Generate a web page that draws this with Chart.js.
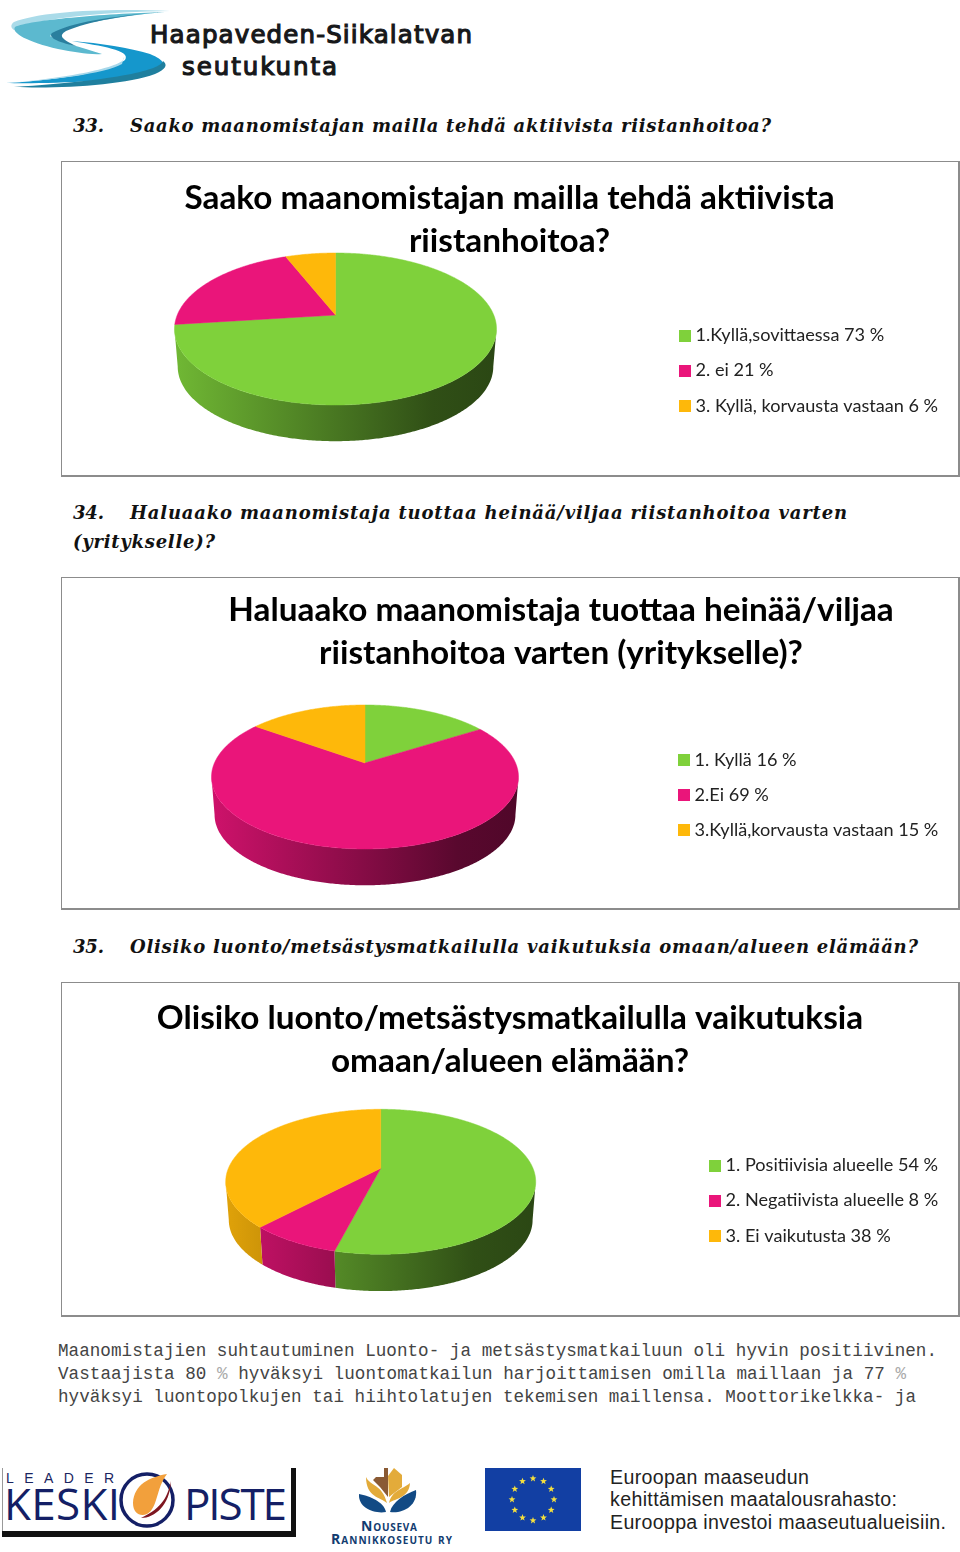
<!DOCTYPE html>
<html lang="fi">
<head>
<meta charset="UTF-8">
<title>Riistanhoito</title>
<script src="https://cdn.jsdelivr.net/npm/chart.js@4/dist/chart.umd.min.js"></script>
<style>
  body { margin: 0; background: #fff; }
  #page { position: relative; width: 960px; height: 1552px; overflow: hidden; }
  #page svg { position: absolute; left: 0; top: 0; }
  .box { position: absolute; left: 61px; width: 896px; border: 1px solid #8c8c8c; border-right-width: 2px; border-bottom-width: 2px; background: #fff; }
  .box canvas { display: block; }
  .head { font: italic bold 18px "DejaVu Serif"; fill: #111; }
  .body { font: 17.6px "Liberation Mono"; fill: #444; }
  .eu { font: 19.6px "Liberation Sans"; fill: #222; }
  .brand { font: 24.5px "DejaVu Sans"; fill: #17181a; stroke: #17181a; stroke-width: 1.2px; }
  .nouseva { font: bold 14px "Open Sans"; font-variant: small-caps; fill: #123c70; }
</style>
</head>
<body>
<div id="page">
  <svg width="960" height="1552" xmlns="http://www.w3.org/2000/svg">
    <!-- header logo -->
    <path d="M170 11C110 8 40 11 14 22C10 25 11 28 14 30C40 17 110 12 170 11Z" fill="#aadbe9"/>
    <path d="M165 12C100 14 30 20 15 27C11 33 28 42 58 49C74 52 90 55 102 54C80 47 60 42 50 36C60 27 110 17 165 12Z" fill="#5cb9cf"/>
    <path d="M165 12C110 16 70 23 52 33C48 37 56 42 76 46C62 39 58 36 66 31C90 21 125 15 165 12Z" fill="#2a7f9e"/>
    <path d="M72 41C100 46 132 50 125 60C110 72 60 80 6 83C40 84 120 82 155 72C168 66 165 60 150 54C130 48 100 43 72 41Z" fill="#1597cc"/>
    <path d="M124 57C128 66 70 78 8 83C50 80 105 74 122 64Z" fill="#a9d8ea"/>
    <path d="M14 87C60 89 125 85 155 74C166 69 168 65 163 61C160 70 120 80 14 87Z" fill="#1f7f9e"/>
    <text class="brand" x="150" y="43" textLength="322">Haapaveden-Siikalatvan</text>
    <text class="brand" x="182" y="75" textLength="155">seutukunta</text>

    <!-- question headings -->
    <text class="head" x="73" y="132" textLength="31">33.</text>
    <text class="head" x="130" y="132" textLength="641">Saako maanomistajan mailla tehdä aktiivista riistanhoitoa?</text>
    <text class="head" x="73" y="519" textLength="31">34.</text>
    <text class="head" x="130" y="519" textLength="717">Haluaako maanomistaja tuottaa heinää/viljaa riistanhoitoa varten</text>
    <text class="head" x="73" y="548" textLength="142">(yritykselle)?</text>
    <text class="head" x="73" y="953" textLength="31">35.</text>
    <text class="head" x="130" y="953" textLength="788">Olisiko luonto/metsästysmatkailulla vaikutuksia omaan/alueen elämään?</text>

    <!-- paragraph below the charts -->
    <text class="body" x="58" y="1356" textLength="879">Maanomistajien suhtautuminen Luonto- ja metsästysmatkailuun oli hyvin positiivinen.</text>
    <text class="body" x="58" y="1379" textLength="848">Vastaajista 80 <tspan fill="#aaa">%</tspan> hyväksyi luontomatkailun harjoittamisen omilla maillaan ja 77 <tspan fill="#aaa">%</tspan></text>
    <text class="body" x="58" y="1402" textLength="858">hyväksyi luontopolkujen tai hiihtolatujen tekemisen maillensa. Moottorikelkka- ja</text>

    <!-- footer logos -->
    <rect x="2" y="1468" width="1" height="64" fill="#999"/>
    <rect x="291" y="1468" width="5" height="69" fill="#111"/>
    <rect x="2" y="1531" width="294" height="6" fill="#111"/>
    <text x="6" y="1483" textLength="108" style="font:14px 'Liberation Sans';fill:#1a2560">LEADER</text>
    <text x="4" y="1520" textLength="116" style="font:44px 'Open Sans';fill:#141f66">KESKI</text>
    <text x="184" y="1520" textLength="103" style="font:44px 'Open Sans';fill:#141f66">PISTE</text>
    <circle cx="147" cy="1500" r="26" fill="none" stroke="#141f66" stroke-width="3.5"/>
    <path d="M167 1474C150 1477 134 1484 133 1503C133 1513 140 1517 147 1514C158 1508 156 1488 167 1474Z" fill="#f2a03c"/>
    <path d="M171 1481C168 1495 163 1508 141 1518C155 1518 170 1505 171 1481Z" fill="#7e1620"/>
    <path d="M373 1480L376 1477H384V1468H388V1497L380 1487Z" fill="#8a5a34"/>
    <path d="M388 1476L394 1468L402 1475V1487L389 1497Z" fill="#e3ab3a"/>
    <path d="M366 1477C370 1486 382 1484 387 1503C380 1497 366 1497 366 1477Z" fill="#e3ab3a"/>
    <path d="M410 1483C402 1490 392 1490 389 1503C396 1498 409 1498 410 1483Z" fill="#e3ab3a"/>
    <path d="M359 1494C370 1496 384 1502 386 1512C374 1514 358 1508 359 1494Z" fill="#124a84"/>
    <path d="M416 1490C405 1494 392 1502 390 1512C402 1514 418 1506 416 1490Z" fill="#124a84"/>
    <text class="nouseva" x="361" y="1531" textLength="56">Nouseva</text>
    <text class="nouseva" x="331" y="1544" textLength="121">Rannikkoseutu ry</text>
    <rect x="485" y="1468" width="96" height="63" fill="#123fa3"/>
    <g id="stars" fill="#f4df3e"></g>
    <text class="eu" x="610" y="1484" textLength="199">Euroopan maaseudun</text>
    <text class="eu" x="610" y="1506" textLength="287">kehittämisen maatalousrahasto:</text>
    <text class="eu" x="610" y="1529" textLength="336">Eurooppa investoi maaseutualueisiin.</text>
  </svg>

  <div class="box" style="top:161px;height:313px"><canvas id="chart33" width="896" height="313"></canvas></div>
  <div class="box" style="top:577px;height:330px"><canvas id="chart34" width="896" height="330"></canvas></div>
  <div class="box" style="top:982px;height:332px"><canvas id="chart35" width="896" height="332"></canvas></div>
</div>

<script>
// values
var colors = ['#7FD13B', '#EA157A', '#FEB80A'];

var title33 = ['Saako maanomistajan mailla tehdä aktiivista', 'riistanhoitoa?'];
var labels33 = ['1.Kyllä,sovittaessa 73 %', '2. ei 21 %', '3. Kyllä, korvausta vastaan 6 %'];
var values33 = [73, 21, 6];

var title34 = ['Haluaako maanomistaja tuottaa heinää/viljaa', 'riistanhoitoa varten (yritykselle)?'];
var labels34 = ['1. Kyllä 16 %', '2.Ei 69 %', '3.Kyllä,korvausta vastaan 15 %'];
var values34 = [16, 69, 15];

var title35 = ['Olisiko luonto/metsästysmatkailulla vaikutuksia', 'omaan/alueen elämään?'];
var labels35 = ['1. Positiivisia alueelle 54 %', '2. Negatiivista alueelle 8 %', '3. Ei vaikutusta 38 %'];
var values35 = [54, 8, 38];

// EU flag stars
var starsSvg = '';
for (var s = 0; s < 12; s++) {
  var a = s * Math.PI / 6, sx = 533 + 21 * Math.cos(a), sy = 1499.5 + 21 * Math.sin(a), pts = [];
  for (var k = 0; k < 10; k++) {
    var r = k % 2 ? 1.5 : 3.6, b = k * Math.PI / 5 - Math.PI / 2;
    pts.push((sx + r * Math.cos(b)).toFixed(1) + ',' + (sy + r * Math.sin(b)).toFixed(1));
  }
  starsSvg += '<polygon points="' + pts.join(' ') + '"/>';
}
document.getElementById('stars').innerHTML = starsSvg;

function shade(hex, f) {
  var n = parseInt(hex.slice(1), 16);
  return 'rgb(' + Math.round((n >> 16) * f) + ',' + Math.round(((n >> 8) & 255) * f) + ',' + Math.round((n & 255) * f) + ')';
}

function swatch(color) {
  var c = document.createElement('canvas');
  c.width = 12;
  c.height = 12;
  var g = c.getContext('2d');
  g.fillStyle = color;
  g.fillRect(0, 0, 12, 12);
  return c;
}

// Chart.js only draws flat pies, so the slices it computes are redrawn here with a perspective tilt
var pie3d = {
  id: 'pie3d',
  afterLayout: function (chart, args, o) {
    var p = (o.down - o.up) / (o.down + o.up);
    var R = o.rx * Math.sqrt(1 - p * p);
    chart.chartArea = { left: o.cx - R, right: o.cx + R, top: o.cy - R, bottom: o.cy + R, width: 2 * R, height: 2 * R };
    chart.titleBlock.left += o.titleShift;
    chart.titleBlock.right += o.titleShift;
    var lg = chart.legend, pad = lg.options.labels.padding, font = lg.options.labels.font.size;
    lg.left = o.legendX + 4.5 - pad;
    lg.right = lg.left + 320;
    lg.top = o.legendY - font / 2 - pad;
    lg.bottom = lg.top + 200;
  },
  beforeDatasetDraw: function () {
    return false;
  },
  afterDatasetsDraw: function (chart, args, o) {
    var ctx = chart.ctx, arcs = chart.getDatasetMeta(0).data;
    var p = (o.down - o.up) / (o.down + o.up), ky = o.up * (1 + p);

    function project(a, scale, drop) {
      var w = 1 - p * Math.sin(a), r = arcs[0].outerRadius;
      return [arcs[0].x + scale * r * Math.cos(a) / w, arcs[0].y + scale * ky * Math.sin(a) / w + drop];
    }
    function rim(from, to, scale, drop) {
      var n = Math.max(2, Math.ceil(Math.abs(to - from) / 0.01));
      for (var i = 0; i <= n; i++) {
        var q = project(from + (to - from) * i / n, scale, drop);
        ctx.lineTo(q[0], q[1]);
      }
    }

    // front wall, only between the two points where the rim turns back
    var turn = Math.asin(p), wallFrom = turn, wallTo = Math.PI - turn;
    arcs.forEach(function (arc, i) {
      for (var t = -1; t <= 1; t++) {
        var from = Math.max(arc.startAngle, wallFrom + t * 2 * Math.PI), to = Math.min(arc.endAngle, wallTo + t * 2 * Math.PI);
        if (to <= from) continue;
        var grad = ctx.createLinearGradient(o.cx - o.rx, 0, o.cx + o.rx, 0);
        grad.addColorStop(0, shade(colors[i], 0.88));
        grad.addColorStop(0.8, shade(colors[i], 0.38));
        grad.addColorStop(1, shade(colors[i], 0.34));
        ctx.fillStyle = grad;
        ctx.beginPath();
        rim(from, to, 1, 0);
        rim(to, from, 0.98, o.depth);
        ctx.closePath();
        ctx.fill();
      }
    });

    // top face
    arcs.forEach(function (arc, i) {
      ctx.fillStyle = ctx.strokeStyle = colors[i];
      ctx.lineWidth = 0.5;
      ctx.beginPath();
      ctx.moveTo(arc.x, arc.y);
      rim(arc.startAngle, arc.endAngle, 1, 0);
      ctx.closePath();
      ctx.fill();
      ctx.stroke();
    });
  }
};

function drawPie(id, title, labels, values, shape) {
  return new Chart(document.getElementById(id), {
    type: 'pie',
    data: {
      labels: labels,
      datasets: [{ data: values, backgroundColor: colors, borderWidth: 0, clip: false }]
    },
    options: {
      responsive: false,
      animation: false,
      events: [],
      plugins: {
        title: {
          display: true,
          text: title,
          color: '#000',
          font: { family: 'Lato', size: 33.3, weight: 'bold', lineHeight: 43 / 33.3 },
          padding: { top: shape.titleTop, bottom: 0 }
        },
        legend: {
          position: 'right',
          align: 'start',
          labels: {
            color: '#222',
            font: { family: 'Lato', size: 18.1 },
            padding: 17,
            boxWidth: 3,
            usePointStyle: true,
            generateLabels: function (chart) {
              return Chart.overrides.doughnut.plugins.legend.labels.generateLabels(chart).map(function (item, i) {
                item.pointStyle = swatch(colors[i]);
                return item;
              });
            }
          }
        },
        tooltip: { enabled: false },
        pie3d: shape
      }
    },
    plugins: [pie3d]
  });
}

// positions are relative to the canvas, which starts at x=62 and one pixel under each box's top line
drawPie('chart33', title33, labels33, values33, { cx: 273.5, cy: 153, rx: 161, up: 62, down: 90, depth: 38, titleTop: 15, titleShift: -0.5, legendX: 617, legendY: 173.5 });
drawPie('chart34', title34, labels34, values34, { cx: 303, cy: 185, rx: 153.5, up: 58, down: 86, depth: 38, titleTop: 11, titleShift: 51, legendX: 616, legendY: 182 });
drawPie('chart35', title35, labels35, values35, { cx: 318.7, cy: 185.3, rx: 155, up: 59, down: 86, depth: 38.5, titleTop: 14, titleShift: 0, legendX: 647, legendY: 182.5 });
</script>
</body>
</html>
